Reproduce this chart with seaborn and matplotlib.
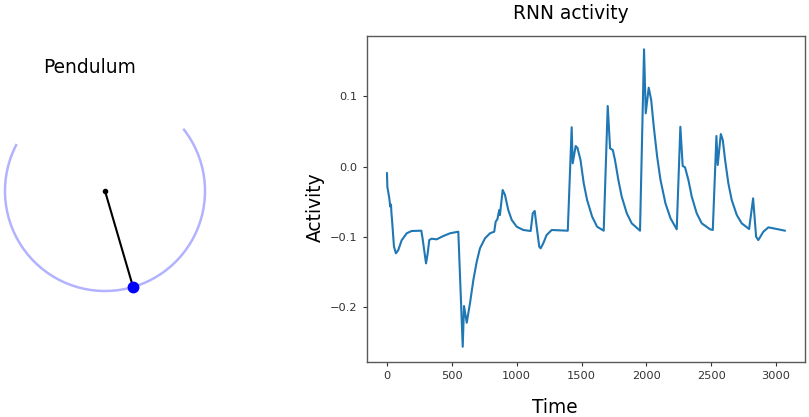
import numpy as np
import pandas as pd
import matplotlib
matplotlib.use("Agg")
import matplotlib.pyplot as plt
from matplotlib.patches import Arc
import seaborn as sns

# ---------------- data ----------------
time = [0, 3, 18, 25, 31, 34, 39, 54, 69, 87, 113, 152, 190, 265, 275, 301, 314, 326,
        344, 383, 434, 486, 550, 584, 594, 615, 640, 666, 692, 717, 756, 794, 827,
        838, 851, 866, 871, 892, 910, 935, 962, 1000, 1051, 1108, 1124, 1139, 1154,
        1174, 1185, 1205, 1231, 1270, 1394, 1424, 1432, 1455, 1469, 1492, 1517, 1543,
        1582, 1620, 1671, 1702, 1720, 1741, 1758, 1784, 1810, 1849, 1887, 1951, 1982,
        1995, 2018, 2037, 2057, 2083, 2109, 2147, 2186, 2234, 2262, 2280, 2298, 2324,
        2350, 2388, 2427, 2491, 2512, 2540, 2550, 2574, 2589, 2607, 2632, 2658, 2697,
        2735, 2792, 2823, 2846, 2863, 2902, 2941, 2979, 3069]
activity = [-0.009, -0.029, -0.045, -0.057, -0.054, -0.065, -0.076, -0.114, -0.1235,
            -0.119, -0.105, -0.095, -0.0917, -0.0913, -0.103, -0.1378, -0.1235, -0.1046,
            -0.1027, -0.1036, -0.0989, -0.095, -0.0927, -0.2566, -0.1986, -0.2224,
            -0.1947, -0.1615, -0.1355, -0.1164, -0.1021, -0.095, -0.0927, -0.0785,
            -0.0751, -0.0618, -0.069, -0.0333, -0.0405, -0.0618, -0.076, -0.0856,
            -0.0903, -0.0917, -0.0665, -0.0632, -0.0856, -0.1141, -0.1164, -0.1093,
            -0.0974, -0.0903, -0.0913, 0.056, 0.0047, 0.0293, 0.0265, 0.0094, -0.0238,
            -0.0476, -0.0714, -0.0856, -0.0913, 0.0863, 0.026, 0.0236, 0.0094, -0.0191,
            -0.0429, -0.0665, -0.0808, -0.0913, 0.167, 0.0759, 0.1124, 0.0949, 0.0568,
            0.0141, -0.0191, -0.0523, -0.0736, -0.0893, 0.0568, 0.0009, -0.001, -0.0191,
            -0.0429, -0.0665, -0.0808, -0.0893, -0.0903, 0.0436, 0.0023, 0.0464, 0.0379,
            0.0094, -0.0238, -0.0476, -0.0689, -0.0808, -0.0889, -0.0452, -0.0999,
            -0.1046, -0.0927, -0.0865, -0.0879, -0.0913]
x_ticks = [0, 500, 1000, 1500, 2000, 2500, 3000]
y_ticks = [-0.2, -0.1, 0.0, 0.1]

# pendulum state
pend_length = 1.0
pend_angle_deg = 16.3          # current angle from downward vertical
trail_start_deg = 152.0        # trail arc (angle from +x axis, counter-clockwise)
trail_end_deg = 38.5

# ---------------- figure ----------------
sns.set_style("ticks")
plt.rcParams["font.family"] = ["DejaVu Sans"]
plt.rcParams["text.color"] = "black"
plt.rcParams["axes.labelcolor"] = "black"

W, H = 809, 417
fig = plt.figure(figsize=(W / 100, H / 100), dpi=100)

# ---- left: pendulum ----
axp = fig.add_axes([0 / W, (H - 300) / H, 210 / W, 220 / H])
axp.set_xlim(-1.05, 1.05)
axp.set_ylim(-1.09, 1.11)
axp.axis("off")
arc = Arc((0, 0), 2 * pend_length, 2 * pend_length, theta1=trail_start_deg,
          theta2=trail_end_deg, color="b", alpha=0.3, lw=1.8)
axp.add_patch(arc)
th = np.deg2rad(pend_angle_deg)
bx, by = pend_length * np.sin(th), -pend_length * np.cos(th)
axp.plot([0, bx], [0, by], color="black", lw=1.5)
axp.plot([0], [0], "o", color="black", ms=3)
axp.plot([bx], [by], "o", color="#0000ff", ms=7.5)
axp.set_title("Pendulum", fontsize=13.4, color="black", x=90 / 210,
              y=(H - 73 - (H - 300)) / 220, pad=0)

# ---- right: RNN activity ----
ax = fig.add_axes([367 / W, (H - 362) / H, 438 / W, 326 / H])
df = pd.DataFrame({"Time": time, "Activity": activity})
sns.lineplot(data=df, x="Time", y="Activity", ax=ax, color="#1f77b4", lw=1.5,
             estimator=None, sort=False)
ax.set_xlim(-154, 3223)
ax.set_ylim(-0.2783, 0.186)
ax.set_xticks(x_ticks)
ax.set_yticks(y_ticks)
ax.tick_params(labelsize=8.2, length=3.2, width=0.8, colors="0.2")
for s in ax.spines.values():
    s.set_color("0.35")
    s.set_linewidth(1.0)
ax.set_title("RNN activity", fontsize=13.4, color="black", x=(571 - 367) / 438,
             y=(H - 19 - (H - 362)) / 326, pad=0)
ax.set_xlabel("Time", fontsize=13.4)
ax.set_ylabel("Activity", fontsize=13.4)
ax.xaxis.set_label_coords((554.5 - 367) / 438, ((H - 398) - (H - 362)) / 326)
ax.yaxis.set_label_coords((325 - 367) / 438, ((H - 206.7) - (H - 362)) / 326)

fig.savefig("out.png", dpi=100)
